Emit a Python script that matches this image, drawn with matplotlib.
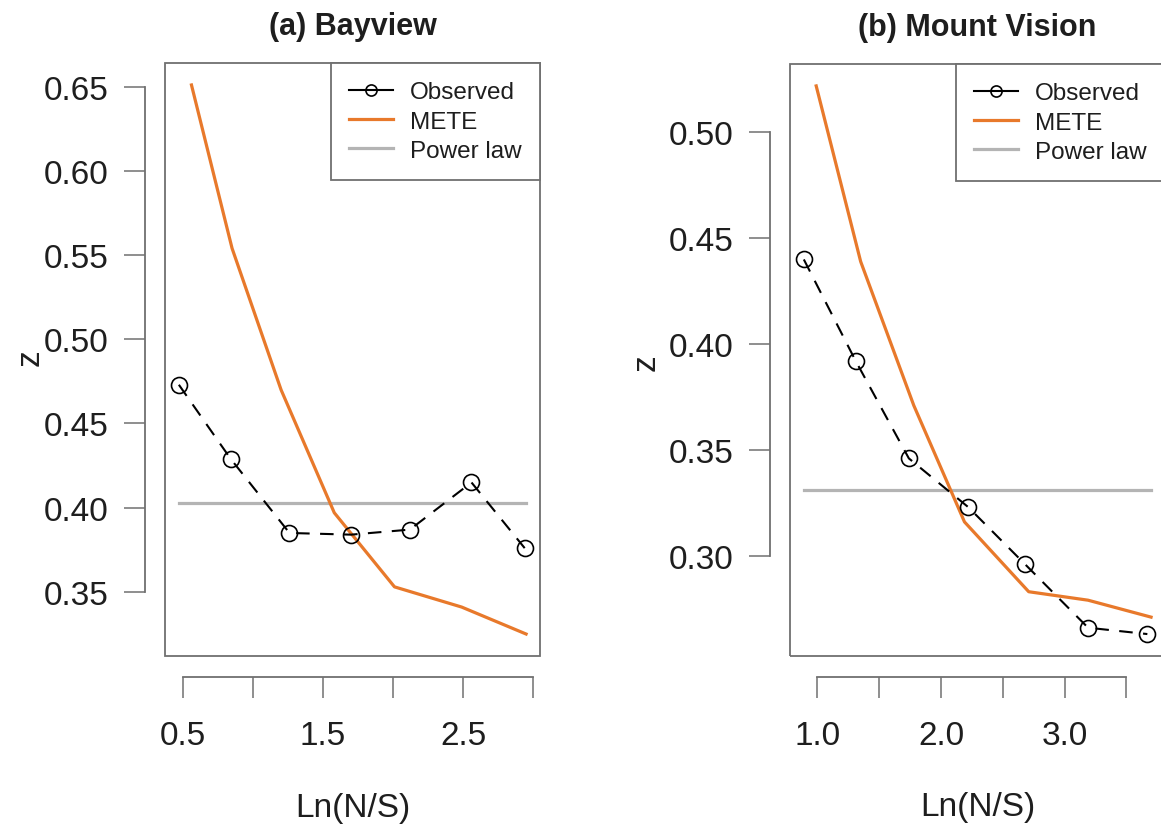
import matplotlib
matplotlib.use("Agg")
import matplotlib.pyplot as plt
from matplotlib.patches import Rectangle
from matplotlib.lines import Line2D

plt.rcParams['font.family'] = ['Liberation Sans', 'DejaVu Sans']

# (a) Bayview
bay_obs_x = [0.47, 0.84, 1.26, 1.70, 2.12, 2.56, 2.94]
bay_obs_z = [0.473, 0.429, 0.385, 0.384, 0.387, 0.415, 0.376]
bay_mete_x = [0.56, 0.85, 1.20, 1.58, 2.01, 2.49, 2.95]
bay_mete_z = [0.651, 0.554, 0.470, 0.397, 0.353, 0.341, 0.325]
bay_power_z = 0.403
bay_xticks = [0.5, 1.0, 1.5, 2.0, 2.5, 3.0]
bay_xlabels = ['0.5', '', '1.5', '', '2.5', '']
bay_yticks = [0.35, 0.40, 0.45, 0.50, 0.55, 0.60, 0.65]

# (b) Mount Vision
mv_obs_x = [0.89, 1.31, 1.74, 2.22, 2.68, 3.19, 3.67]
mv_obs_z = [0.440, 0.392, 0.346, 0.323, 0.296, 0.266, 0.263]
mv_mete_x = [0.99, 1.35, 1.78, 2.19, 2.71, 3.19, 3.70]
mv_mete_z = [0.522, 0.439, 0.371, 0.316, 0.283, 0.279, 0.271]
mv_power_z = 0.331
mv_xticks = [1.0, 1.5, 2.0, 2.5, 3.0, 3.5]
mv_xlabels = ['1.0', '', '2.0', '', '3.0', '']
mv_yticks = [0.30, 0.35, 0.40, 0.45, 0.50]

legend_labels = ['Observed', 'METE', 'Power law']

ORANGE = '#E8792B'
PL_GREY = '#B4B4B4'
FRAME_GREY = '#707070'
TEXT = '#1e1e1e'


def draw_panel(ax, title, obs_x, obs_z, mete_x, mete_z, power_z,
               xticks, xlabels, yticks):
    ax.plot(obs_x, obs_z, color='black', lw=1.5, ls=(0, (6.5, 5)),
            marker='o', ms=11.5, mfc='none', mew=1.2, zorder=3)
    ax.plot(mete_x, mete_z, color=ORANGE, lw=2.3, zorder=2)
    # power law fit is flat across the whole x range
    x_lo = min(obs_x + mete_x)
    x_hi = max(obs_x + mete_x)
    ax.plot([x_lo, x_hi], [power_z, power_z], color=PL_GREY, lw=2.3, zorder=1)
    ax.margins(x=0.04, y=0.04)

    # R-style detached axes plus a box round the plot region
    ax.spines['top'].set_visible(False)
    ax.spines['right'].set_visible(False)
    ax.spines['left'].set_position(('outward', 14.4))
    ax.spines['bottom'].set_position(('outward', 15))
    ax.spines['left'].set_bounds(yticks[0], yticks[-1])
    ax.spines['bottom'].set_bounds(xticks[0], xticks[-1])
    for s in ['left', 'bottom']:
        ax.spines[s].set_color(FRAME_GREY)
        ax.spines[s].set_linewidth(1.3)
    ax.add_patch(Rectangle((0, 0), 1, 1, transform=ax.transAxes, fill=False,
                           ec=FRAME_GREY, lw=1.3, clip_on=False, zorder=5))

    ax.set_xticks(xticks)
    ax.set_xticklabels(xlabels)
    ax.set_yticks(yticks)
    ax.set_yticklabels(['%.2f' % v for v in yticks])
    ax.tick_params(length=15, width=1.1, color=FRAME_GREY, labelsize=24,
                   labelcolor=TEXT, pad=11)
    ax.tick_params(axis='x', pad=16)

    ax.set_title(title, fontsize=22, fontweight='bold', pad=21, color=TEXT)
    ax.text(0.5, -0.255, 'Ln(N/S)', transform=ax.transAxes, ha='center',
            va='center', fontsize=24, color=TEXT)

    handles = [
        Line2D([], [], color='black', lw=1.5, marker='o', ms=8, mfc='none', mew=1.2),
        Line2D([], [], color=ORANGE, lw=2.3),
        Line2D([], [], color=PL_GREY, lw=2.3),
    ]
    leg = ax.legend(handles, legend_labels, loc='upper right',
                    bbox_to_anchor=(1, 1), borderaxespad=0, fontsize=17.5,
                    fancybox=False, framealpha=1, edgecolor=FRAME_GREY,
                    handlelength=1.8, handletextpad=0.7, labelspacing=0.3,
                    borderpad=0.75, labelcolor=TEXT)
    leg.get_frame().set_linewidth(1.3)
    leg.set_zorder(6)


fig = plt.figure(figsize=(11.61, 8.29), dpi=100)
ax1 = fig.add_axes([0.1421, 0.2075, 0.3230, 0.7153])
ax2 = fig.add_axes([0.6804, 0.2075, 0.3230, 0.7141])

draw_panel(ax1, '(a) Bayview', bay_obs_x, bay_obs_z, bay_mete_x, bay_mete_z,
           bay_power_z, bay_xticks, bay_xlabels, bay_yticks)
draw_panel(ax2, '(b) Mount Vision', mv_obs_x, mv_obs_z, mv_mete_x, mv_mete_z,
           mv_power_z, mv_xticks, mv_xlabels, mv_yticks)

ax1.text(-0.36, 0.505, 'z', rotation=90, transform=ax1.transAxes,
         ha='center', va='center', fontsize=24, color=TEXT)
ax2.text(-0.383, 0.497, 'z', rotation=90, transform=ax2.transAxes,
         ha='center', va='center', fontsize=24, color=TEXT)

fig.savefig('out.png', dpi=100)
